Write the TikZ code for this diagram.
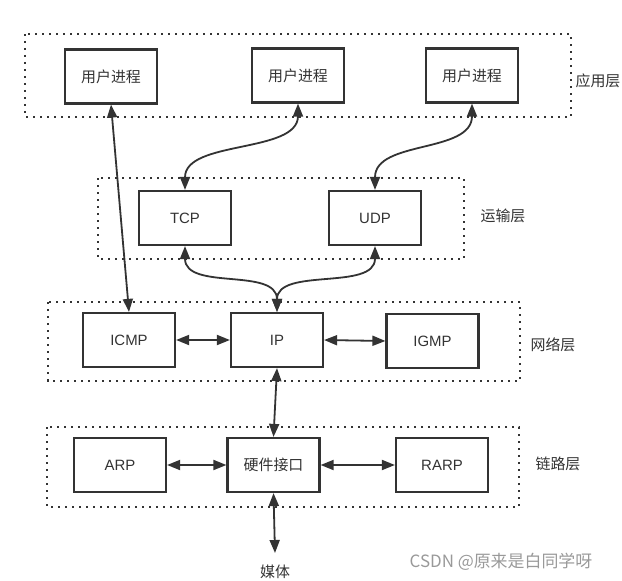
\documentclass[tikz,border=0pt]{standalone}
\usepackage{fontspec}
\setmainfont{Liberation Sans}
\newfontfamily\cjk{Noto Sans CJK SC}
\usetikzlibrary{arrows.meta}
\definecolor{ink}{HTML}{333333}
\tikzstyle{box} = [rectangle, 
draw=ink, line width=2.2bp, 
minimum width=92bp, 
minimum height=54bp,
inner sep=0pt,
text=ink, 
font=\fontsize{15}{18}\selectfont]
\tikzstyle{layer} = [draw=ink, line width=2.2bp, dash pattern=on 2.2bp off 4.8bp]
\tikzstyle{layername} = [text=ink, font=\fontsize{15}{18}\selectfont\cjk]
\tikzstyle{arrow} = [{Triangle[length=13bp,width=10bp]}-{Triangle[length=13bp,width=10bp]}, line width=1.8bp, draw=ink]

\begin{document}
\begin{tikzpicture}[x=1bp, y=-1bp]
		
		% Define the canvas boundary
		\useasboundingbox (0,0) rectangle (622,581);
		
		% Layers
		\draw[layer] (25,34) rectangle (571,117);
		\draw[layer] (98,178) rectangle (464,259);
		\draw[layer] (48,302) rectangle (520,381);
		\draw[layer] (47,427) rectangle (519,507);
		
		\node[layername] (app) at (598,81) {应用层};
		\node[layername] (trans) at (503,216) {运输层};
		\node[layername] (net) at (553,345) {网络层};
		\node[layername] (link) at (558,464) {链路层};
		
		\node[box] (u1) at (111,76.5) {\cjk 用户进程};
		\node[box] (u2) at (298,75.5) {\cjk 用户进程};
		\node[box] (u3) at (472,75.5) {\cjk 用户进程};
		
		\node[box] (tcp) at (185,218) {TCP};
		\node[box] (udp) at (375,218) {UDP};
		
		\node[box] (icmp) at (129,340) {ICMP};
		\node[box] (ip) at (277,340) {IP};
		\node[box] (igmp) at (432.5,341) {IGMP};
		
		\node[box] (arp) at (120,465) {ARP};
		\node[box] (hw) at (273.5,465) {\cjk 硬件接口};
		\node[box] (rarp) at (442,465) {RARP};
		
		\node[layername] (media) at (275,572) {媒体};
		\coordinate (mtop) at (275,553);
		
		\node[text=black!40, font=\fontsize{17}{20}\selectfont\cjk] (mark) at (501,562) {CSDN @原来是白同学呀};
		
		\draw[arrow] (u1.south) -- (icmp.north);
		\draw[arrow] (u2.south) .. controls +(0,50) and +(0,-50) .. (tcp.north);
		\draw[arrow] (u3.south) .. controls +(0,50) and +(0,-50) .. (udp.north);
		
		\draw[arrow] (tcp.south) .. controls +(0,45) and +(0,-45) .. (ip.north);
		\draw[arrow] (udp.south) .. controls +(0,45) and +(0,-45) .. (ip.north);
		
		\draw[arrow] (icmp) -- (ip);
		\draw[arrow] (ip.east) -- (igmp.west);
		\draw[arrow] (ip.south) -- (hw.north);
		
		\draw[arrow] (arp) -- (hw);
		\draw[arrow] (hw) -- (rarp);
		\draw[arrow] (hw.south) -- (mtop);
		
	\end{tikzpicture}
\end{document}
